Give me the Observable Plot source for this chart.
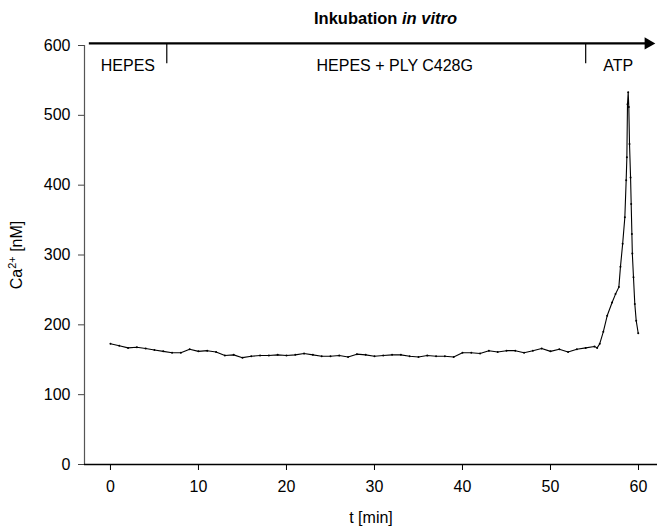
<!DOCTYPE html>
<html>
<head>
<meta charset="utf-8">
<script src="https://cdn.jsdelivr.net/npm/d3@7"></script>
<script src="https://cdn.jsdelivr.net/npm/@observablehq/plot@0.6"></script>
<style>
  body { margin: 0; background: #fff; }
  svg { font-family: "Liberation Sans", Arial, sans-serif; }
</style>
</head>
<body>
<div id="chart"></div>
<script>
// Time in minutes
const times = [0,1,2,3,4,5,6,7,8,9,10,11,12,13,14,15,16,17,18,19,20,21,22,23,24,25,26,27,28,29,30,31,32,33,34,35,36,37,38,39,40,41,42,43,44,45,46,47,48,49,50,51,52,53,54,55,55.3,55.6,56,56.44,57,57.39,57.77,57.95,58.2,58.45,58.6,58.68,58.75,58.83,58.9,58.98,59.1,59.17,59.25,59.3,59.43,59.58,59.74,59.97];
// Ca2+ concentration [nM]
const calcium = [173,170,167,168,166,164,162,160,160,165,162,163,161,156,157,153,155,156,156,157,156,157,159,157,155,155,156,154,158,157,155,156,157,157,155,154,156,155,155,154,160,160,159,163,161,163,163,160,163,166,162,165,161,165,167,169,167,173,190,213,232,244,254,283,316,354,407,440,516,533,512,459,411,373,330,302,268,230,206,188];

// Phase annotations
const phaseLabels = ["HEPES", "HEPES + PLY C428G", "ATP"];
const phaseLabelX = [-1.1, 32.3, 57.7];
const phaseBoundaries = [6.4, 54];
const arrowStart = -2.4, arrowHeadCenter = 61.1, arrowLevel = 603;
const titleText = "Inkubation";
const titleItalic = "in vitro";
const titleX = 31.25, titleLevel = 638;
const labelLevel = 571, boundaryBottom = 574;

const yTicks = [0,100,200,300,400,500,600];
const xTicks = [0,10,20,30,40,50,60];

const data = times.map((t, i) => ({t, v: calcium[i]}));

const xDomain = [-2.95, 62.16];

const chart = Plot.plot({
  width: 657,
  height: 531,
  marginLeft: 84,
  marginRight: 0,
  marginTop: 45,
  marginBottom: 67,
  style: {fontFamily: "Liberation Sans, Arial, sans-serif", fontSize: "16px", color: "#000", background: "#fff"},
  x: {domain: xDomain, ticks: xTicks},
  y: {domain: [0, 600], ticks: yTicks},
  marks: [
    Plot.axisY({ticks: yTicks, tickSize: 6, tickPadding: 8, stroke: "#444", fontSize: 16, label: "Ca2+ [nM]", labelAnchor: "center", labelOffset: 74, labelArrow: "none"}),
    Plot.axisX({ticks: xTicks, tickSize: 6, tickPadding: 10, fontSize: 16, label: "t [min]", labelAnchor: "center", labelOffset: 58, labelArrow: "none"}),
    Plot.ruleX([xDomain[0]], {y1: 0, y2: 600, stroke: "#555", strokeWidth: 1.2}),
    Plot.ruleY([0], {stroke: "#000", strokeWidth: 1.5}),
    Plot.line(data, {x: "t", y: "v", stroke: "#000", strokeWidth: 1.1}),
    Plot.dot(data, {x: "t", y: "v", r: 1, fill: "#000", stroke: null}),
    Plot.ruleY([arrowLevel], {x1: arrowStart, x2: arrowHeadCenter, stroke: "#000", strokeWidth: 2.2}),
    Plot.dot([arrowHeadCenter], {x: d => d, y: arrowLevel, symbol: "triangle", r: 4.6, rotate: 90, fill: "#000", stroke: null}),
    Plot.ruleX(phaseBoundaries, {y1: arrowLevel, y2: boundaryBottom, stroke: "#000", strokeWidth: 1.2}),
    Plot.text([phaseLabels[0]], {x: phaseLabelX[0], y: labelLevel, text: d => d, textAnchor: "start", fontSize: 16, fill: "#000"}),
    Plot.text(phaseLabels.slice(1), {x: (d, i) => phaseLabelX[i + 1], y: labelLevel, text: d => d, textAnchor: "middle", fontSize: 16, fill: "#000"}),
    Plot.text([titleText], {x: titleX, y: titleLevel, text: d => d, fontSize: 16.5, fontWeight: "bold", fill: "#000", textAnchor: "middle"})
  ]
});

// Title: bold word followed by italic part
d3.select(chart).selectAll("text").filter(function(){ return this.textContent === titleText; }).each(function(){
  const t = d3.select(this);
  t.text(null);
  t.append("tspan").text(titleText + " ");
  t.append("tspan").attr("font-style", "italic").text(titleItalic);
});
// Y label with superscript
d3.select(chart).selectAll("text").filter(function(){ return this.textContent === "Ca2+ [nM]"; }).each(function(){
  const t = d3.select(this);
  t.selectAll("*").remove();
  t.text(null);
  t.append("tspan").text("Ca");
  t.append("tspan").attr("baseline-shift", "super").attr("font-size", "11px").text("2+");
  t.append("tspan").text(" [nM]");
});

document.getElementById("chart").append(chart);
</script>
</body>
</html>
